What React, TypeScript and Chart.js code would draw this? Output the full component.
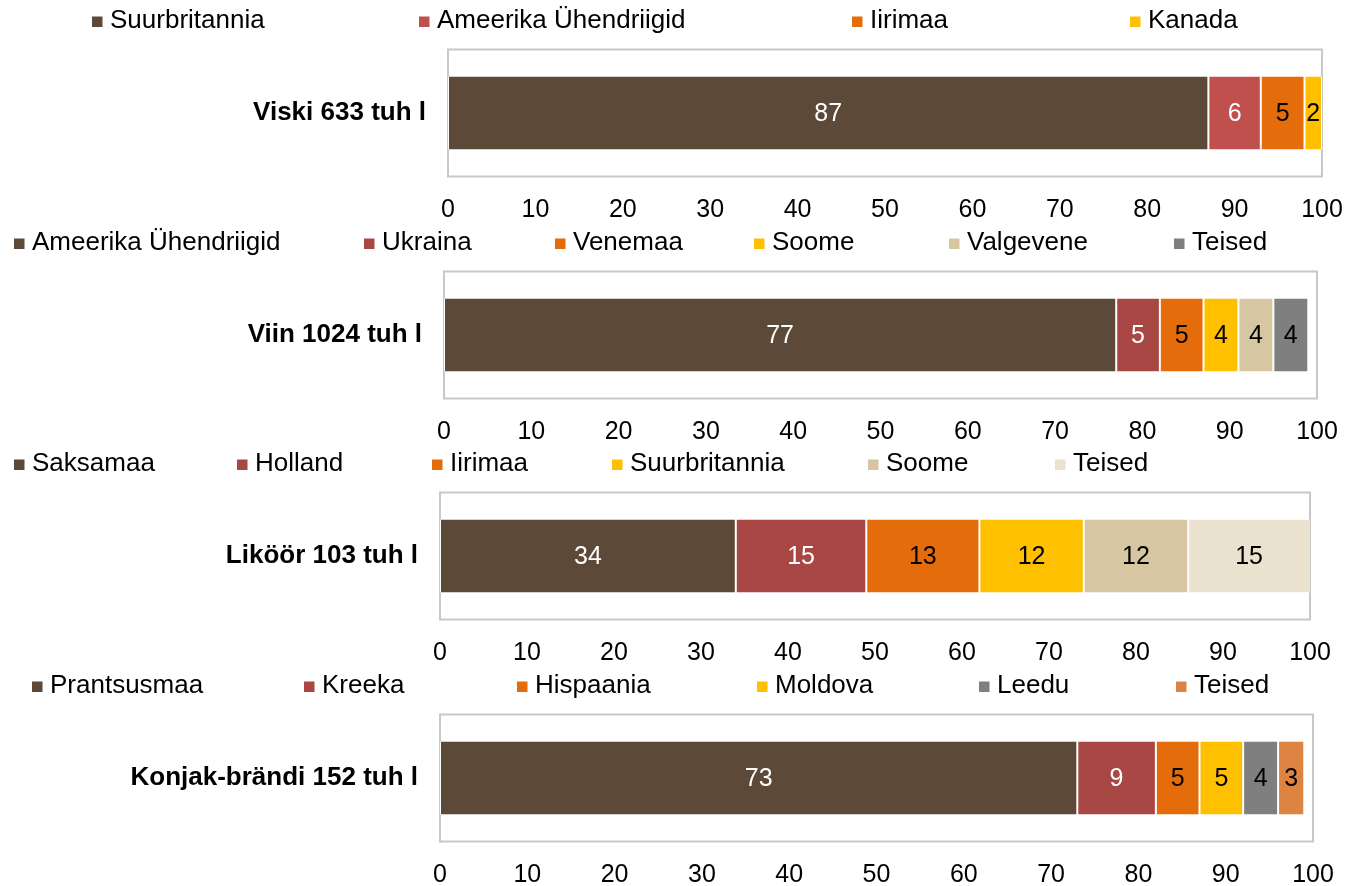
import React, { useEffect, useRef } from "react";
import { Chart, registerables } from "chart.js";

Chart.register(...registerables);

const FONT = "'Liberation Sans', Arial, Helvetica, sans-serif";

// ---------- data ----------
const viskiTitle = "Viski 633 tuh l";
const viskiCountries = ["Suurbritannia", "Ameerika Ühendriigid", "Iirimaa", "Kanada"];
const viskiShares = [87, 6, 5, 2];

const viinTitle = "Viin 1024 tuh l";
const viinCountries = ["Ameerika Ühendriigid", "Ukraina", "Venemaa", "Soome", "Valgevene", "Teised"];
const viinShares = [77, 5, 5, 4, 4, 4];

const likoorTitle = "Liköör 103 tuh l";
const likoorCountries = ["Saksamaa", "Holland", "Iirimaa", "Suurbritannia", "Soome", "Teised"];
const likoorShares = [34, 15, 13, 12, 12, 15];

const konjakTitle = "Konjak-brändi 152 tuh l";
const konjakCountries = ["Prantsusmaa", "Kreeka", "Hispaania", "Moldova", "Leedu", "Teised"];
const konjakShares = [73, 9, 5, 5, 4, 3];

const axisMin = 0;
const axisMax = 100;
const axisStep = 10;

// ---------- styles ----------
const BROWN = "#5C4937";
const RED = "#C0504D";
const DARK_RED = "#A84744";
const ORANGE = "#E46C0A";
const YELLOW = "#FFC000";
const TAN = "#D7C6A2";
const GRAY = "#7F7F7F";
const CREAM = "#EAE2CF";
const LIGHT_ORANGE = "#DE8443";
const W = "#FFFFFF";
const K = "#000000";

type PanelCfg = {
  title: string;
  countries: string[];
  shares: number[];
  colors: string[];
  labelColors: string[];
  top: number;
  height: number;
  left: number;
  right: number;
  legendTextX: number[];
};

const panels: PanelCfg[] = [
  {
    title: viskiTitle,
    countries: viskiCountries,
    shares: viskiShares,
    colors: [BROWN, RED, ORANGE, YELLOW],
    labelColors: [W, W, K, K],
    top: 0,
    height: 221,
    left: 448,
    right: 1322,
    legendTextX: [110, 437, 870, 1148],
  },
  {
    title: viinTitle,
    countries: viinCountries,
    shares: viinShares,
    colors: [BROWN, DARK_RED, ORANGE, YELLOW, TAN, GRAY],
    labelColors: [W, W, K, K, K, K],
    top: 222,
    height: 221,
    left: 444,
    right: 1317,
    legendTextX: [32, 382, 573, 772, 967, 1192],
  },
  {
    title: likoorTitle,
    countries: likoorCountries,
    shares: likoorShares,
    colors: [BROWN, DARK_RED, ORANGE, YELLOW, TAN, CREAM],
    labelColors: [W, W, K, K, K, K],
    top: 443,
    height: 221,
    left: 440,
    right: 1310,
    legendTextX: [32, 255, 450, 630, 886, 1073],
  },
  {
    title: konjakTitle,
    countries: konjakCountries,
    shares: konjakShares,
    colors: [BROWN, DARK_RED, ORANGE, YELLOW, GRAY, LIGHT_ORANGE],
    labelColors: [W, W, K, K, K, K],
    top: 665,
    height: 221,
    left: 440,
    right: 1313,
    legendTextX: [50, 322, 535, 775, 997, 1194],
  },
];

const PAGE_W = 1357;
const PAGE_H = 886;
const CANVAS_W = 1400;

function Panel({ cfg }: { cfg: PanelCfg }) {
  const ref = useRef<HTMLCanvasElement | null>(null);

  useEffect(() => {
    if (!ref.current) return;

    const framePlugin = {
      id: "frame",
      beforeDatasetsDraw(chart: any) {
        const { ctx, chartArea } = chart;
        ctx.save();
        ctx.strokeStyle = "#C8C8C8";
        ctx.lineWidth = 2;
        ctx.strokeRect(chartArea.left, chartArea.top, chartArea.right - chartArea.left, chartArea.bottom - chartArea.top);
        ctx.restore();
      },
    };

    const valueLabels = {
      id: "valueLabels",
      afterDatasetsDraw(chart: any) {
        const { ctx, chartArea } = chart;
        ctx.save();
        ctx.font = `25px ${FONT}`;
        ctx.textAlign = "center";
        ctx.textBaseline = "middle";
        chart.data.datasets.forEach((ds: any, i: number) => {
          const meta = chart.getDatasetMeta(i);
          meta.data.forEach((el: any, j: number) => {
            const p = el.getProps(["x", "base", "y"], true);
            const end = Math.min(p.x, chartArea.right);
            const start = Math.max(p.base, chartArea.left);
            ctx.fillStyle = ds.labelColor;
            ctx.fillText(String(ds.data[j]), (start + end) / 2, p.y + 1);
          });
        });
        ctx.restore();
      },
    };

    const customLegend = {
      id: "customLegend",
      afterDraw(chart: any) {
        const { ctx } = chart;
        ctx.save();
        ctx.font = `26px ${FONT}`;
        ctx.textBaseline = "middle";
        ctx.textAlign = "left";
        const y = 21;
        chart.data.datasets.forEach((ds: any, i: number) => {
          const tx = cfg.legendTextX[i];
          ctx.fillStyle = ds.backgroundColor;
          ctx.fillRect(tx - 18, y - 4.5, 10.5, 10.5);
          ctx.fillStyle = "#000";
          ctx.fillText(ds.label, tx, y);
        });
        ctx.restore();
      },
    };

    const chart = new Chart(ref.current, {
      type: "bar",
      data: {
        labels: [cfg.title],
        datasets: cfg.countries.map((name, i) => ({
          label: name,
          data: [cfg.shares[i]],
          backgroundColor: cfg.colors[i],
          borderColor: "#FFFFFF",
          borderWidth: { top: 0, bottom: 0, left: 1, right: 1 },
          borderSkipped: false,
          labelColor: cfg.labelColors[i],
          categoryPercentage: 1,
          barPercentage: 0.575,
        })) as any,
      },
      options: {
        indexAxis: "y",
        responsive: false,
        animation: false,
        devicePixelRatio: 1,
        layout: {
          padding: { top: 49.5, bottom: 0, left: 0, right: CANVAS_W - cfg.right },
        },
        plugins: {
          legend: { display: false },
          tooltip: { enabled: false },
        },
        scales: {
          x: {
            stacked: true,
            min: axisMin,
            max: axisMax,
            ticks: {
              stepSize: axisStep,
              color: "#000",
              font: { family: FONT, size: 25, lineHeight: 1 },
              padding: 21.5,
              maxRotation: 0,
            },
            grid: { display: false, drawTicks: false },
            border: { display: false },
            afterFit: (scale: any) => {
              scale.height = 44.5;
            },
          },
          y: {
            stacked: true,
            ticks: {
              color: "#000",
              font: { family: FONT, size: 26, weight: "bold", lineHeight: 1 },
              padding: 22,
            },
            grid: { display: false, drawTicks: false },
            border: { display: false },
            afterFit: (scale: any) => {
              scale.width = cfg.left;
            },
          },
        },
      } as any,
      plugins: [framePlugin, valueLabels, customLegend],
    });

    return () => chart.destroy();
  }, [cfg]);

  return (
    <canvas
      ref={ref}
      width={CANVAS_W}
      height={cfg.height}
      style={{ position: "absolute", left: 0, top: cfg.top, width: CANVAS_W, height: cfg.height }}
    />
  );
}

export default function App() {
  return (
    <div
      style={{
        position: "fixed",
        left: 0,
        top: 0,
        width: PAGE_W,
        height: PAGE_H,
        background: "#fff",
        overflow: "hidden",
      }}
    >
      {panels.map((p) => (
        <Panel key={p.title} cfg={p} />
      ))}
    </div>
  );
}
